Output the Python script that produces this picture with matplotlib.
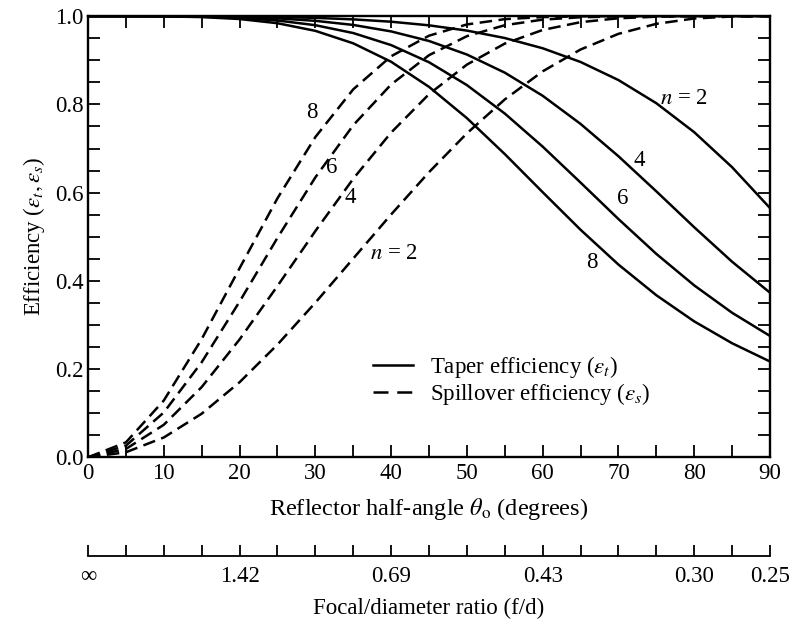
import matplotlib
matplotlib.use("Agg")
import matplotlib.pyplot as plt
from matplotlib.lines import Line2D
from matplotlib.ticker import MultipleLocator, FormatStrFormatter

plt.rcParams['font.family'] = ['Liberation Serif', 'DejaVu Serif']
plt.rcParams['mathtext.fontset'] = 'stix'

# reflector half-angle (degrees)
theta = [0, 5, 10, 15, 20, 25, 30, 35, 40, 45, 50, 55, 60, 65, 70, 75, 80, 85, 90]

# spillover efficiency, n = 2, 4, 6, 8
spill_n2 = [0.0, 0.0114, 0.0449, 0.0988, 0.1702, 0.2555, 0.3505, 0.4506, 0.5505, 0.6464,
            0.7344, 0.8113, 0.875, 0.9245, 0.9600, 0.9827, 0.9948, 0.9993, 1.0]
spill_n4 = [0.0, 0.0189, 0.0737, 0.1592, 0.2672, 0.3883, 0.5129, 0.6315, 0.7362, 0.8232,
            0.8903, 0.9379, 0.9688, 0.9865, 0.9953, 0.9988, 0.9998, 1.0, 1.0]
spill_n6 = [0.0, 0.0264, 0.1016, 0.2155, 0.3529, 0.4975, 0.6346, 0.7528, 0.8452, 0.9116,
            0.9547, 0.9796, 0.9922, 0.9976, 0.9995, 1.0, 1.0, 1.0, 1.0]
spill_n8 = [0.0, 0.0338, 0.1287, 0.2680, 0.4286, 0.5872, 0.7260, 0.8342, 0.9092, 0.9558,
            0.9813, 0.9933, 0.9980, 0.9996, 1.0, 1.0, 1.0, 1.0, 1.0]

# taper efficiency, n = 2, 4, 6, 8
taper_n2 = [1.0, 1.0, 1.0, 0.9998, 0.9994, 0.9982, 0.9962, 0.9928, 0.9875, 0.9793,
            0.9674, 0.9505, 0.9273, 0.8962, 0.8552, 0.8027, 0.7370, 0.6576, 0.5650]
taper_n4 = [1.0, 1.0, 0.9999, 0.9994, 0.9981, 0.9951, 0.9895, 0.9802, 0.9655, 0.9438,
            0.9131, 0.8720, 0.8196, 0.7558, 0.6825, 0.6029, 0.5215, 0.4433, 0.3731]
taper_n6 = [1.0, 1.0, 0.9998, 0.9988, 0.9961, 0.9903, 0.9796, 0.9618, 0.9345, 0.8956,
            0.8438, 0.7793, 0.7043, 0.6228, 0.5401, 0.4611, 0.3897, 0.3276, 0.2751]
taper_n8 = [1.0, 1.0, 0.9996, 0.9980, 0.9936, 0.9841, 0.9668, 0.9385, 0.8967, 0.8398,
            0.7689, 0.6874, 0.6010, 0.5158, 0.4369, 0.3674, 0.3081, 0.2585, 0.2171]

# focal/diameter scale
fd_angles = [0, 20, 40, 60, 80, 90]
fd_labels = ['∞', '1.42', '0.69', '0.43', '0.30', '0.25']

FS = 16.5
LW = 1.8
DASH = (0, (5, 2.6))

fig = plt.figure(figsize=(7.93, 6.23), dpi=100)
ax = fig.add_axes([0.111, 0.266, 0.860, 0.708])

for t in [taper_n2, taper_n4, taper_n6, taper_n8]:
    ax.plot(theta, t, color='black', lw=LW)
for s in [spill_n2, spill_n4, spill_n6, spill_n8]:
    ax.plot(theta, s, color='black', lw=LW, linestyle=DASH)

ax.set_xlim(0, 90)
ax.set_ylim(0, 1.0)
ax.xaxis.set_major_locator(MultipleLocator(10))
ax.xaxis.set_minor_locator(MultipleLocator(5))
ax.yaxis.set_major_locator(MultipleLocator(0.2))
ax.yaxis.set_minor_locator(MultipleLocator(0.05))
ax.yaxis.set_major_formatter(FormatStrFormatter('%.1f'))
ax.tick_params(which='both', direction='in', top=True, right=True,
               length=8.5, width=1.3, labelsize=FS)
ax.tick_params(axis='x', pad=4)
ax.tick_params(axis='y', pad=3)
for sp in ax.spines.values():
    sp.set_linewidth(1.7)

ax.set_xlabel(r'Reflector half-angle $\theta_{\rm o}$ (degrees)', fontsize=FS + 1, labelpad=9)
ax.set_ylabel(r'Efficiency ($\varepsilon_t, \varepsilon_s$)', fontsize=FS, labelpad=6)

# curve labels
ax.text(29.6, 0.782, '8', fontsize=FS, ha='center', va='center')
ax.text(32.2, 0.657, '6', fontsize=FS, ha='center', va='center')
ax.text(34.6, 0.590, '4', fontsize=FS, ha='center', va='center')
ax.text(37.2, 0.463, r'$n$ = 2', fontsize=FS, ha='left', va='center')
ax.text(75.5, 0.813, r'$n$ = 2', fontsize=FS, ha='left', va='center')
ax.text(72.8, 0.673, '4', fontsize=FS, ha='center', va='center')
ax.text(70.6, 0.587, '6', fontsize=FS, ha='center', va='center')
ax.text(66.5, 0.442, '8', fontsize=FS, ha='center', va='center')

handles = [Line2D([], [], color='black', lw=LW),
           Line2D([], [], color='black', lw=LW, linestyle=(0, (6, 3.5)))]
ax.legend(handles, [r'Taper efficiency ($\varepsilon_t$)', r'Spillover efficiency ($\varepsilon_s$)'],
          frameon=False, fontsize=FS, handlelength=1.75, handletextpad=0.7,
          labelspacing=0.08, loc='upper left', bbox_to_anchor=(0.405, 0.256),
          borderaxespad=0)

# focal/diameter ratio axis
ax2 = fig.add_axes([0.111, 0.107, 0.860, 0.05])
ax2.set_xlim(0, 90)
ax2.set_ylim(0, 1)
ax2.patch.set_visible(False)
for side in ['top', 'left', 'right']:
    ax2.spines[side].set_visible(False)
ax2.spines['bottom'].set_linewidth(1.3)
ax2.set_yticks([])
ax2.set_xticks(fd_angles)
ax2.set_xticklabels(fd_labels)
ax2.xaxis.set_minor_locator(MultipleLocator(5))
ax2.tick_params(axis='x', which='both', direction='in', length=8, width=1.3,
                labelsize=FS, pad=7)
ax2.set_xlabel('Focal/diameter ratio (f/d)', fontsize=FS, labelpad=8)

fig.savefig('out.png', dpi=100)
